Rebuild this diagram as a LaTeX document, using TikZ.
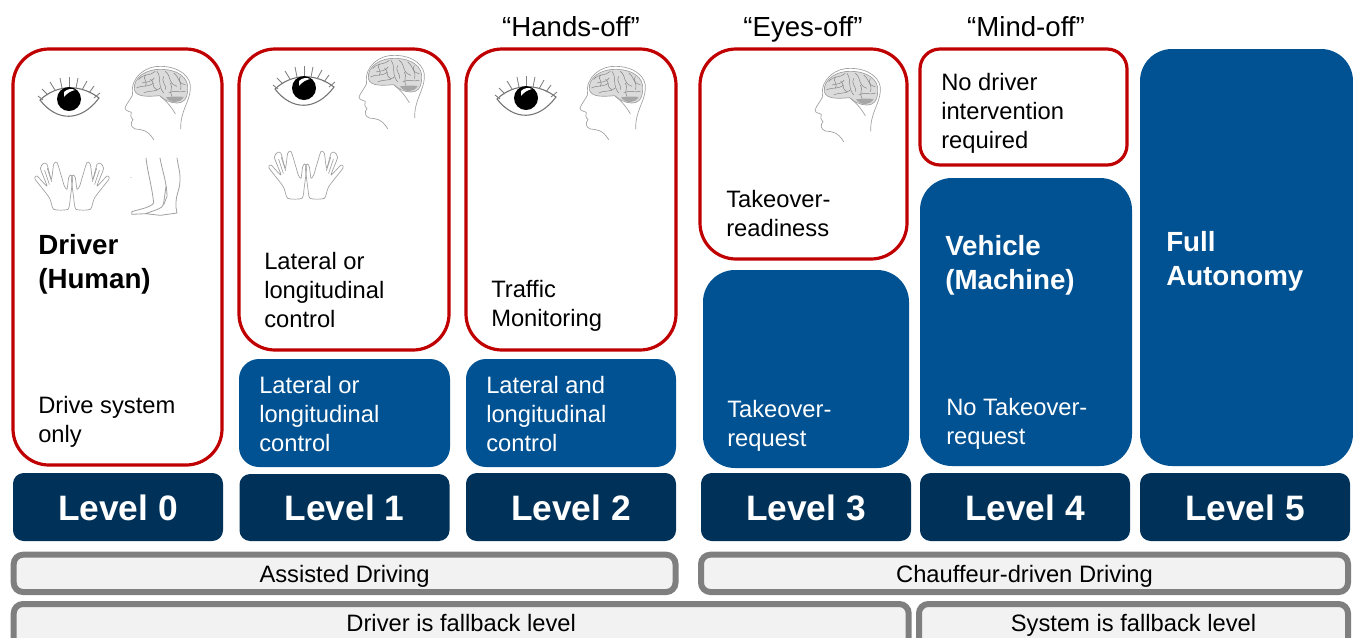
\documentclass[tikz,border=0pt]{standalone}
\usepackage{fontspec}
\setmainfont{Liberation Sans}
\definecolor{mblue}{RGB}{0,82,147}
\definecolor{dblue}{RGB}{0,50,89}
\definecolor{mred}{RGB}{192,0,0}
\definecolor{gline}{RGB}{127,127,127}
\definecolor{gfill}{RGB}{242,242,242}
\definecolor{sk}{RGB}{160,160,160}
\newcommand{\bx}[6]{\node[#2,minimum width={(#5-#3)*0.75pt},minimum height={(#6-#4)*0.75pt}] (#1) at ({(#3+#5)/2},{(#4+#6)/2})}
\tikzset{
  redbox/.style={draw=mred,line width=2.4pt,fill=white,rounded corners=27pt,inner sep=0pt},
  redsmall/.style={draw=mred,line width=2.4pt,fill=white,rounded corners=15pt,inner sep=0pt},
  bluebox/.style={fill=mblue,rounded corners=15pt,inner sep=0pt},
  bluebig/.style={fill=mblue,rounded corners=24pt,inner sep=0pt},
  levelbox/.style={fill=dblue,rounded corners=8pt,inner sep=0pt,text=white,text height=19.5pt,text depth=0pt,font=\fontsize{26.5}{30}\selectfont\bfseries},
  greybox/.style={draw=gline,line width=4.5pt,fill=gfill,rounded corners=7pt,inner sep=0pt,text height=14pt,text depth=0.2pt,font=\fontsize{17.8}{20}\selectfont},
  greylow/.style={greybox,text height=7pt,text depth=0pt},
  txt/.style={anchor=north west,inner sep=0pt,align=left,font=\fontsize{17.8}{21.8}\selectfont},
  wtxt/.style={txt,text=white},
  bigtxt/.style={anchor=north west,inner sep=0pt,align=left,font=\fontsize{20.8}{25.5}\selectfont\bfseries},
  quote/.style={inner sep=0pt,text height=16pt,text depth=5pt,font=\fontsize{20.7}{24}\selectfont},
  sketch/.style={draw=sk,line width=0.5pt,line join=round,line cap=round},
  fold/.style={draw=black!50,line width=0.35pt},
  eye/.pic={
    \draw[black!55,line width=0.8pt,fill=white] (-29,1) .. controls (-12,-15) and (12,-15) .. (30,-1) .. controls (12,23) and (-12,23) .. (-29,1) -- cycle;
    \fill[black] (0,0) circle (12);
    \fill[white] (-5,-7) .. controls (-2,-10) and (3,-11) .. (6,-9) .. controls (2,-8) and (-2,-6) .. (-5,-2) -- cycle;
    \foreach \a/\b/\c/\d in {-31/-3/-26/1, -27/-10/-21/-4, -19/-17/-14/-9, -9/-21/-7/-11, 0/-22/0/-12, 9/-21/7/-11, 18/-18/13/-9, 25/-13/20/-6, 31/-6/25/-1}
      \draw[black!50,line width=0.65pt] (\a,\b) -- (\c,\d);
  },
  head/.pic={
    \begin{scope}[scale=.3333,shift={(-395,-85)}]
    \draw[sketch] (397,165) .. controls (390,180) and (380,190) .. (374,205) .. controls (375,215) and (385,213) .. (393,218) .. controls (390,225) and (390,232) .. (398,240) .. controls (390,250) and (390,262) .. (405,268) .. controls (425,270) and (442,270) .. (460,300);
    \draw[sketch] (397,165) .. controls (388,110) and (440,78) .. (480,80) .. controls (535,80) and (575,110) .. (570,150) .. controls (566,190) and (540,215) .. (541,268);
    \draw[sketch,fill=black!14] (402,150) .. controls (398,112) and (440,88) .. (480,89) .. controls (530,89) and (566,112) .. (562,150) .. controls (561,180) and (548,190) .. (530,190) .. controls (510,190) and (490,180) .. (478,168) .. controls (450,170) and (408,175) .. (402,150) -- cycle;
    \fill[black!35] (497,173) .. controls (515,170) and (535,170) .. (550,172) .. controls (540,192) and (510,192) .. (497,173) -- cycle;
    \draw[fold] (415,120) .. controls (430,100) and (450,110) .. (465,95);
    \draw[fold] (408,145) .. controls (425,135) and (440,145) .. (460,130);
    \draw[fold] (470,95) .. controls (485,115) and (470,135) .. (490,160);
    \draw[fold] (495,95) .. controls (515,110) and (500,130) .. (530,140);
    \draw[fold] (520,100) .. controls (540,115) and (530,130) .. (555,135);
    \draw[fold] (430,160) .. controls (445,150) and (465,160) .. (480,145);
    \draw[fold] (505,160) .. controls (520,150) and (535,160) .. (555,155);
    \draw[fold] (435,105) .. controls (425,120) and (445,125) .. (435,140);
    \draw[fold] (450,118) .. controls (465,125) and (450,140) .. (470,150);
    \draw[fold] (425,130) .. controls (440,125) and (450,130) .. (462,115);
    \draw[fold] (490,110) .. controls (480,125) and (500,135) .. (495,150);
    \draw[fold] (510,130) .. controls (520,145) and (505,150) .. (515,170);
    \draw[fold] (540,110) .. controls (530,125) and (548,130) .. (540,150);
    \draw[sketch] (480,170) .. controls (500,185) and (515,205) .. (525,222);
    \end{scope}
  },
  hand/.pic={
    \begin{scope}[scale=.3333,shift={(-140,-342)}]
    \foreach \t in {0,1}{
    \begin{scope}[shift={(\t*280,0)},xscale={1-2*\t}]
    \draw[sketch] plot[smooth cycle,tension=.35] coordinates {(85,445) (72,410) (29,354) (35,345) (65,375) (45,322) (55,307) (65,310) (78,355) (85,310) (95,304) (108,345) (117,375) (125,385) (130,350) (136,342) (142,352) (135,410) (128,445)};
    \draw[sketch] (58,328) -- (72,370);
    \draw[sketch] (66,322) -- (79,362);
    \end{scope}}
    \end{scope}
  },
  legs/.pic={
    \begin{scope}[scale=.3333,shift={(-437,-355)}]
    \draw[sketch,line width=.6pt] (437,355) .. controls (442,400) and (455,440) .. (460,490) .. controls (450,505) and (410,510) .. (395,516) -- (394,524) -- (435,522);
    \draw[sketch,line width=.6pt] (479,355) .. controls (485,390) and (500,430) .. (500,470) -- (490,495);
    \draw[sketch,line width=.6pt] (530,355) .. controls (535,390) and (545,410) .. (535,450) .. controls (525,480) and (525,500) .. (530,520) -- (480,527) -- (435,522) .. controls (470,510) and (490,505) .. (490,490) -- (497,440);
    \fill[sk] (392,414) circle (1.5);
    \end{scope}
  }
}
\begin{document}
\begin{tikzpicture}[x=0.75pt,y=-0.75pt]
\useasboundingbox (0,0) rectangle (1353,637);
\begin{scope}
\clip (0,0) rectangle (1353,637);
% red panels
\bx{r0}{redbox}{13}{49}{222}{465}{};
\bx{r1}{redbox}{239}{49}{449}{350}{};
\bx{r2}{redbox}{466}{49}{676}{350}{};
\bx{r3}{redbox}{700}{49}{907}{259}{};
\bx{r4}{redsmall}{920}{49}{1127}{165}{};
% blue panels
\bx{b1}{bluebox}{239}{359}{450}{467}{};
\bx{b2}{bluebox}{466}{359}{676}{467}{};
\bx{b3}{bluebig}{703}{270}{909}{468}{};
\bx{b4}{bluebig}{920}{178}{1132}{466}{};
\bx{b5}{bluebig}{1140}{49}{1353}{466}{};
% levels
\bx{l0}{levelbox}{13}{473}{223}{541}{Level 0};
\bx{l1}{levelbox}{239.5}{474}{449.5}{541}{Level 1};
\bx{l2}{levelbox}{466}{473}{676}{541}{Level 2};
\bx{l3}{levelbox}{701}{473}{911}{541}{Level 3};
\bx{l4}{levelbox}{920}{473}{1130}{541}{Level 4};
\bx{l5}{levelbox}{1140}{473}{1350}{541}{Level 5};
% grey bars
\bx{g1}{greybox}{13.7}{554.7}{675.5}{592}{Assisted Driving};
\bx{g2}{greybox}{701}{554.7}{1348}{592}{Chauffeur-driven Driving};
\bx{g3}{greylow}{13.7}{604}{908.7}{650}{Driver is fallback level};
\bx{g4}{greylow}{919}{604}{1348}{650}{System is fallback level};
\end{scope}
% quotes
\node[quote] (q2) at (571,29) {“Hands-off”};
\node[quote] (q3) at (803,29) {“Eyes-off”};
\node[quote] (q4) at (1026,29) {“Mind-off”};
% text in panels
\node[bigtxt] (t0) at (38,234) {Driver\\(Human)};
\node[txt] (t0b) at (38,396) {Drive system\\only};
\node[txt] (t1) at (264,252) {Lateral or\\longitudinal\\control};
\node[txt] (t2) at (491,280) {Traffic\\Monitoring};
\node[txt] (t3) at (726,190) {Takeover-\\readiness};
\node[txt] (t4) at (941,73) {No driver\\intervention\\required};
\node[wtxt] (t5) at (259,376) {Lateral or\\longitudinal\\control};
\node[wtxt] (t6) at (486,376) {Lateral and\\longitudinal\\control};
\node[wtxt] (t7) at (727,400) {Takeover-\\request};
\node[wtxt] (t8) at (946,398) {No Takeover-\\request};
\node[bigtxt,text=white] (t9) at (945,235) {Vehicle\\(Machine)};
\node[bigtxt,text=white] (t10) at (1166,231) {Full\\Autonomy};
% icons
\pic at (69,99) {eye};
\pic at (304,88) {eye};
\pic at (526,98) {eye};
\pic at (132,68) {head};
\pic at (366,57) {head};
\pic at (587,68) {head};
\pic at (822,70) {head};
\pic at (72,175) {hand};
\pic at (306,164) {hand};
\pic at (146,158) {legs};
\end{tikzpicture}
\end{document}
